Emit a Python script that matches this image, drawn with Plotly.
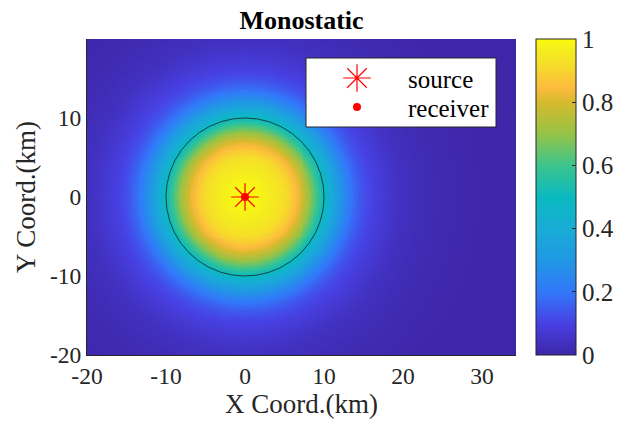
import numpy as np
import plotly.graph_objects as go

# ---- data ----
# radial detection-probability profile around the monostatic node (km, value)
profile_r = [0, 1, 2, 3, 4, 5, 6, 7, 8, 9, 10, 11, 12, 13, 14, 15, 16, 17, 18, 19, 20, 22, 25, 30, 40, 60]
profile_p = [1.0, 0.995, 0.98, 0.965, 0.945, 0.92, 0.875, 0.81, 0.72, 0.61, 0.50, 0.39, 0.30, 0.22, 0.165,
             0.125, 0.10, 0.08, 0.065, 0.05, 0.04, 0.025, 0.012, 0.004, 0.0, 0.0]
source_xy = (0, 0)
receiver_xy = (0, 0)
detection_radius = 10
x_range = [-20, 34.3]
y_range = [-20, 20]
x_ticks = [-20, -10, 0, 10, 20, 30]
y_ticks = [-20, -10, 0, 10]
cb_ticks = [0, 0.2, 0.4, 0.6, 0.8, 1]
legend_labels = ["source", "receiver"]

parula = [
    [0.0, "rgb(62,38,168)"],
    [0.1, "rgb(71,65,228)"],
    [0.2, "rgb(50,120,250)"],
    [0.3, "rgb(32,152,228)"],
    [0.4, "rgb(24,172,214)"],
    [0.5, "rgb(10,186,192)"],
    [0.6, "rgb(60,196,140)"],
    [0.7, "rgb(150,195,70)"],
    [0.8, "rgb(215,186,45)"],
    [0.845, "rgb(252,187,62)"],
    [0.92, "rgb(246,222,40)"],
    [0.965, "rgb(245,237,30)"],
    [1.0, "rgb(249,251,14)"],
]

def lab(v):
    return str(v).replace("\u2212", "-")

xs = np.arange(x_range[0], x_range[1] + 0.25, 0.25)
ys = np.arange(y_range[0], y_range[1] + 0.25, 0.25)
X, Y = np.meshgrid(xs, ys)
R = np.hypot(X - source_xy[0], Y - source_xy[1])
Z = np.interp(R, profile_r, profile_p)

FONT = "Liberation Serif, Times New Roman, serif"

# plot-area pixel geometry (for the hand-made legend box)
PL, PR, PT, PB = 87, 516, 39, 355
def fx(px):
    return (px - PL) / (PR - PL)
def fy(py):
    return (PB - py) / (PB - PT)

SRC_MARK = dict(symbol="asterisk-open", size=23, color="red", line=dict(color="red", width=1.2))
RCV_MARK = dict(symbol="circle", size=8, color="red", line=dict(width=0))

fig = go.Figure()
fig.add_trace(go.Heatmap(
    x=xs, y=ys, z=Z, zmin=0, zmax=1, colorscale=parula, showlegend=False,
    hoverinfo="skip",
    colorbar=dict(
        thickness=40, len=1, lenmode="fraction", y=0.5, yanchor="middle",
        x=fx(536), xanchor="left", xpad=0, ypad=0,
        outlinecolor="#262626", outlinewidth=1,
        tickvals=cb_ticks, ticktext=["0", "0.2", "0.4", "0.6", "0.8", "1"],
        ticks="inside", ticklen=4, tickcolor="#262626",
        tickfont=dict(family=FONT, size=25, color="#262626"),
    ),
))

# detection circle
th = np.linspace(0, 2 * np.pi, 361)
fig.add_trace(go.Scatter(
    x=source_xy[0] + detection_radius * np.cos(th),
    y=source_xy[1] + detection_radius * np.sin(th),
    mode="lines", line=dict(color="rgba(20,20,20,0.9)", width=0.8),
    showlegend=False, hoverinfo="skip",
))

fig.add_trace(go.Scatter(x=[source_xy[0]], y=[source_xy[1]], mode="markers",
                         name=legend_labels[0], marker=SRC_MARK, showlegend=False))
fig.add_trace(go.Scatter(x=[receiver_xy[0]], y=[receiver_xy[1]], mode="markers",
                         name=legend_labels[1], marker=RCV_MARK, showlegend=False))

# legend (MATLAB-style box) drawn on an overlay axis spanning the plot area
row_y = [fy(78), fy(107)]
bx0, bx1, by0, by1 = fx(306), fx(496), fy(127), fy(58)
fig.add_trace(go.Scatter(x=[bx0, bx1, bx1, bx0, bx0], y=[by0, by0, by1, by1, by0],
                         xaxis="x2", yaxis="y2", mode="lines", fill="toself",
                         fillcolor="white", line=dict(color="#262626", width=1),
                         showlegend=False, hoverinfo="skip"))
fig.add_trace(go.Scatter(x=[fx(357)], y=[row_y[0]], xaxis="x2", yaxis="y2",
                         mode="markers", marker=SRC_MARK, showlegend=False, hoverinfo="skip"))
fig.add_trace(go.Scatter(x=[fx(357)], y=[row_y[1]], xaxis="x2", yaxis="y2",
                         mode="markers", marker=RCV_MARK, showlegend=False, hoverinfo="skip"))
for txt, yy in zip(legend_labels, row_y):
    fig.add_annotation(text=txt, xref="paper", yref="paper", x=fx(406), y=yy - 0.004,
                       xanchor="left", yanchor="middle", showarrow=False,
                       font=dict(family=FONT, size=25, color="black"))

fig.update_layout(
    width=622, height=422,
    margin=dict(l=PL, r=622 - PR, t=PT, b=422 - PB, autoexpand=False),
    paper_bgcolor="white", plot_bgcolor="white",
    font=dict(family=FONT, size=23, color="#262626"),
    showlegend=False,
    title=dict(text="<b>Monostatic</b>", x=(PL + PR) / 2 / 622, xanchor="center",
               y=1 - 20 / 422, yanchor="middle",
               font=dict(family=FONT, size=26, color="black")),
    xaxis=dict(range=x_range, tickvals=x_ticks, ticktext=[lab(v) for v in x_ticks],
               ticks="inside", ticklen=0,
               showgrid=False, zeroline=False, showline=True, linecolor="#262626", linewidth=1,
               title=dict(text="X Coord.(km)", standoff=2, font=dict(size=27)),
               tickfont=dict(size=23.5)),
    yaxis=dict(range=y_range, tickvals=y_ticks, ticktext=[lab(v) for v in y_ticks],
               ticks="inside", ticklen=0,
               showgrid=False, zeroline=False, showline=True, linecolor="#262626", linewidth=1,
               title=dict(text="Y Coord.(km)", standoff=6, font=dict(size=27)),
               tickfont=dict(size=23.5)),
    xaxis2=dict(range=[0, 1], overlaying="x", visible=False, fixedrange=True),
    yaxis2=dict(range=[0, 1], overlaying="y", visible=False, fixedrange=True),
)

fig.write_html("out.html")
